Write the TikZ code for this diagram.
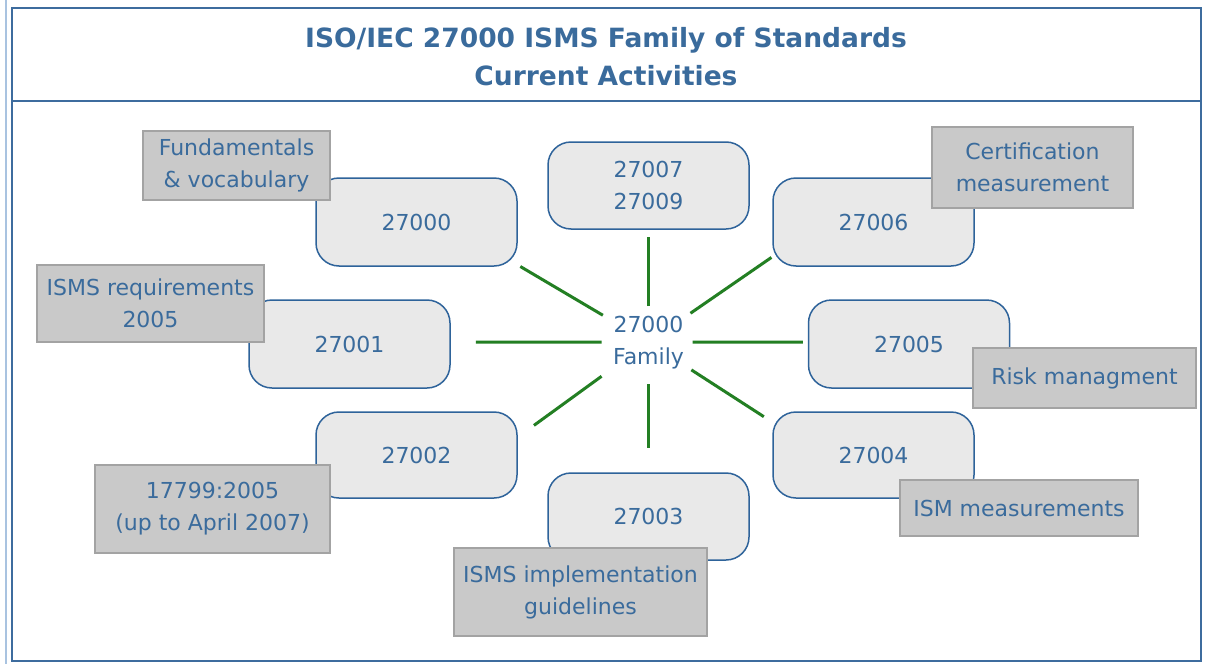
\documentclass[tikz,border=0pt]{standalone}
\usepackage{fontspec}
\setmainfont{DejaVu Sans}
\definecolor{txt}{HTML}{3A6B9C}
\definecolor{bord}{HTML}{2E639A}
\definecolor{boxfill}{HTML}{E9E9E9}
\definecolor{lblfill}{HTML}{C9C9C9}
\definecolor{lbldraw}{HTML}{A3A3A3}
\definecolor{spokec}{HTML}{237F23}
\definecolor{framec}{HTML}{3D6C9E}
\definecolor{faintc}{HTML}{A9C3E0}
\tikzset{
 stdbox/.style={draw=bord, line width=1.5pt, fill=boxfill, rounded corners=23pt, minimum width=201pt, minimum height=88pt, inner sep=0pt, text=txt, align=center, font=\fontsize{22}{32}\selectfont},
 lbl/.style={draw=lbldraw, line width=1.5pt, fill=lblfill, inner sep=0pt, text=txt, align=center, font=\fontsize{22}{32}\selectfont},
 spoke/.style={draw=spokec, line width=3pt},
 plain/.style={inner sep=0pt, text=txt, align=center, font=\fontsize{22}{32}\selectfont},
 titlestyle/.style={inner sep=0pt, text=txt, align=center, font=\fontsize{26.5}{38}\selectfont\bfseries},
}
\begin{document}
\begin{tikzpicture}[x=1pt,y=-1pt]
\useasboundingbox (0,0) rectangle (1205,664);
\fill[white] (0,0) rectangle (1205,664);
% frame
\draw[faintc, line width=1.5pt] (6,0) -- (6,664);
\draw[framec, line width=2pt] (12,8) rectangle (1201,661);
\draw[framec, line width=2pt] (12,101) -- (1201,101);
\node[titlestyle] (title) at (606,57) {ISO/IEC 27000 ISMS Family of Standards\\Current Activities};
% rounded boxes
\node[stdbox] (b27000) at (416.5,222) {27000};
\node[stdbox, minimum height=87pt] (b27007) at (648.5,185.5) {27007\\27009};
\node[stdbox] (b27006) at (873.5,222) {27006};
\node[stdbox] (b27001) at (349.5,344) {27001};
\node[stdbox] (b27005) at (909,344) {27005};
\node[stdbox, minimum height=86pt] (b27002) at (416.5,455) {27002};
\node[stdbox, minimum height=87pt] (b27003) at (648.5,516.5) {27003};
\node[stdbox, minimum height=86pt] (b27004) at (873.5,455) {27004};
% centre
\node[plain] (fam) at (648.5,342.2) {27000\\Family};
% spokes
\draw[spoke, shorten <=53pt, shorten >=3pt] (fam.center) -- (b27000.337);
\draw[spoke, shorten <=36pt, shorten >=7pt] (fam.center) -- (b27007.south);
\draw[spoke, shorten <=51pt, shorten >=1pt] (fam.center) -- (b27006.199);
\draw[spoke, shorten <=47pt, shorten >=25pt] (fam.center) -- (b27001.1);
\draw[spoke, shorten <=44pt, shorten >=5pt] (fam.center) -- (b27005.179);
\draw[spoke, shorten <=58pt, shorten >=20pt] (fam.center) -- (b27002.10);
\draw[spoke, shorten <=42pt, shorten >=24pt] (fam.center) -- (b27003.north);
\draw[spoke, shorten <=51pt, shorten >=10pt] (fam.center) -- (b27004.162);
% grey labels
\node[lbl, minimum width=187pt, minimum height=69pt] (lfund) at (236.5,165.5) {Fundamentals\\\& vocabulary};
\node[lbl, minimum width=201pt, minimum height=81pt] (lcert) at (1032.5,167.5) {Certification\\measurement};
\node[lbl, minimum width=227pt, minimum height=77pt] (lreq) at (150.5,303.5) {ISMS requirements\\2005};
\node[lbl, minimum width=223pt, minimum height=60pt] (lrisk) at (1084.5,378) {Risk managment};
\node[lbl, minimum width=235pt, minimum height=88pt] (l17799) at (212.5,509) {17799:2005\\(up to April 2007)};
\node[lbl, minimum width=253pt, minimum height=88pt] (limpl) at (580.5,592) {ISMS implementation\\guidelines};
\node[lbl, minimum width=238pt, minimum height=56pt] (lism) at (1019,508) {ISM measurements};
\end{tikzpicture}
\end{document}
